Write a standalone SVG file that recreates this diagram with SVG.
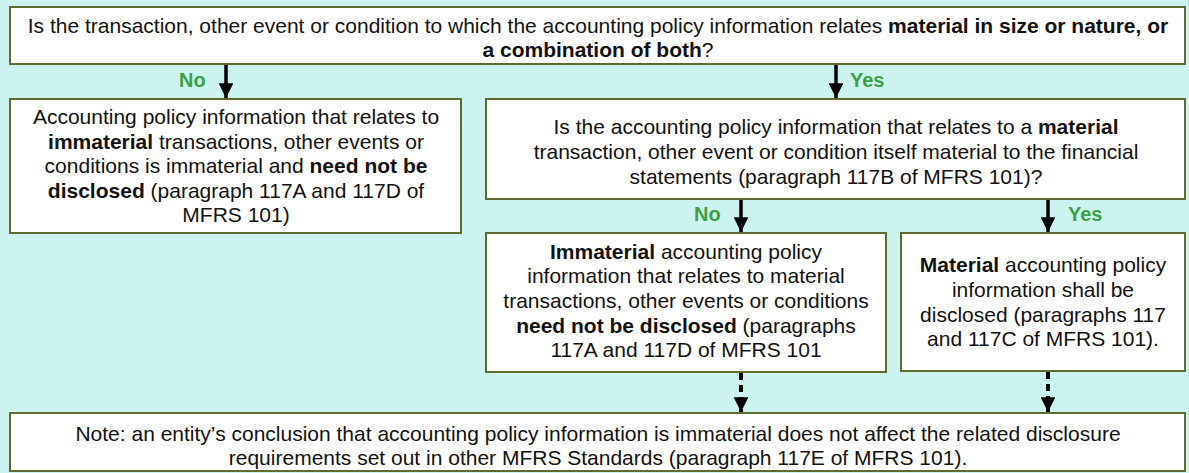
<svg xmlns="http://www.w3.org/2000/svg" width="1189" height="473" viewBox="0 0 1189 473">
<defs>
<style>
.box{fill:#ffffff;stroke:#5f6b2e;stroke-width:2}
.t{font-family:"Liberation Sans",Arial,sans-serif;font-size:21px;fill:#111111;text-anchor:middle}
.b{font-weight:bold}
.lbl{font-family:"Liberation Sans",Arial,sans-serif;font-size:20px;font-weight:bold;fill:#3c9f48}
.arr{stroke:#000;stroke-width:3.5;fill:none}
.dash{stroke:#000;stroke-width:4;fill:none;stroke-dasharray:7 5}
</style>
<marker id="ah" viewBox="0 0 10 10" refX="10" refY="5" markerWidth="4.2" markerHeight="4.2" markerUnits="strokeWidth" orient="auto">
<path d="M0,0 L10,5 L0,10 Z" fill="#000"/>
</marker>
<marker id="ah2" viewBox="0 0 10 10" refX="10" refY="5" markerWidth="3.7" markerHeight="3.7" markerUnits="strokeWidth" orient="auto">
<path d="M0,0 L10,5 L0,10 Z" fill="#000"/>
</marker>
</defs>
<rect x="0" y="0" width="1189" height="473" fill="#ccf3ef"/>

<g id="connectors">
<line class="arr" x1="226" y1="64" x2="226" y2="98" marker-end="url(#ah)"/>
<line class="arr" x1="836" y1="64" x2="836" y2="98" marker-end="url(#ah)"/>
<line class="arr" x1="741" y1="199" x2="741" y2="232" marker-end="url(#ah)"/>
<line class="arr" x1="1048" y1="199" x2="1048" y2="232" marker-end="url(#ah)"/>
<line class="dash" x1="741" y1="373" x2="741" y2="412" marker-end="url(#ah2)"/>
<line class="dash" x1="1048" y1="372" x2="1048" y2="412" marker-end="url(#ah2)"/>
<text class="lbl" x="179" y="87">No</text>
<text class="lbl" x="850" y="87">Yes</text>
<text class="lbl" x="694" y="221">No</text>
<text class="lbl" x="1068" y="221">Yes</text>
</g>

<g id="q1">
<rect class="box" x="10" y="7" width="1175" height="57"/>
<text class="t" x="598" y="33">Is the transaction, other event or condition to which the accounting policy information relates <tspan class="b">material in size or nature, or</tspan></text>
<text class="t" x="598" y="57"><tspan class="b">a combination of both</tspan>?</text>
</g>

<g id="noMaterial">
<rect class="box" x="10" y="99" width="451" height="134"/>
<text class="t" x="236" y="124">Accounting policy information that relates to</text>
<text class="t" x="236" y="149"><tspan class="b">immaterial</tspan> transactions, other events or</text>
<text class="t" x="236" y="173">conditions is immaterial and <tspan class="b">need not be</tspan></text>
<text class="t" x="236" y="198"><tspan class="b">disclosed</tspan> (paragraph 117A and 117D of</text>
<text class="t" x="236" y="222">MFRS 101)</text>
</g>

<g id="q2">
<rect class="box" x="486" y="99" width="699" height="100"/>
<text class="t" x="836" y="134">Is the accounting policy information that relates to a <tspan class="b">material</tspan></text>
<text class="t" x="836" y="159">transaction, other event or condition itself material to the financial</text>
<text class="t" x="836" y="184">statements (paragraph 117B of MFRS 101)?</text>
</g>

<g id="immaterialInfo">
<rect class="box" x="486" y="233" width="400" height="139"/>
<text class="t" x="686" y="259"><tspan class="b">Immaterial</tspan> accounting policy</text>
<text class="t" x="686" y="283">information that relates to material</text>
<text class="t" x="686" y="308">transactions, other events or conditions</text>
<text class="t" x="686" y="333"><tspan class="b">need not be disclosed</tspan> (paragraphs</text>
<text class="t" x="686" y="357">117A and 117D of MFRS 101</text>
</g>

<g id="materialInfo">
<rect class="box" x="901" y="233" width="284" height="138"/>
<text class="t" x="1043" y="272"><tspan class="b">Material</tspan> accounting policy</text>
<text class="t" x="1043" y="297">information shall be</text>
<text class="t" x="1043" y="322">disclosed (paragraphs 117</text>
<text class="t" x="1043" y="346">and 117C of MFRS 101).</text>
</g>

<g id="note">
<rect class="box" x="10" y="413" width="1175" height="58"/>
<text class="t" x="598" y="441">Note: an entity’s conclusion that accounting policy information is immaterial does not affect the related disclosure</text>
<text class="t" x="598" y="465">requirements set out in other MFRS Standards (paragraph 117E of MFRS 101).</text>
</g>
</svg>
